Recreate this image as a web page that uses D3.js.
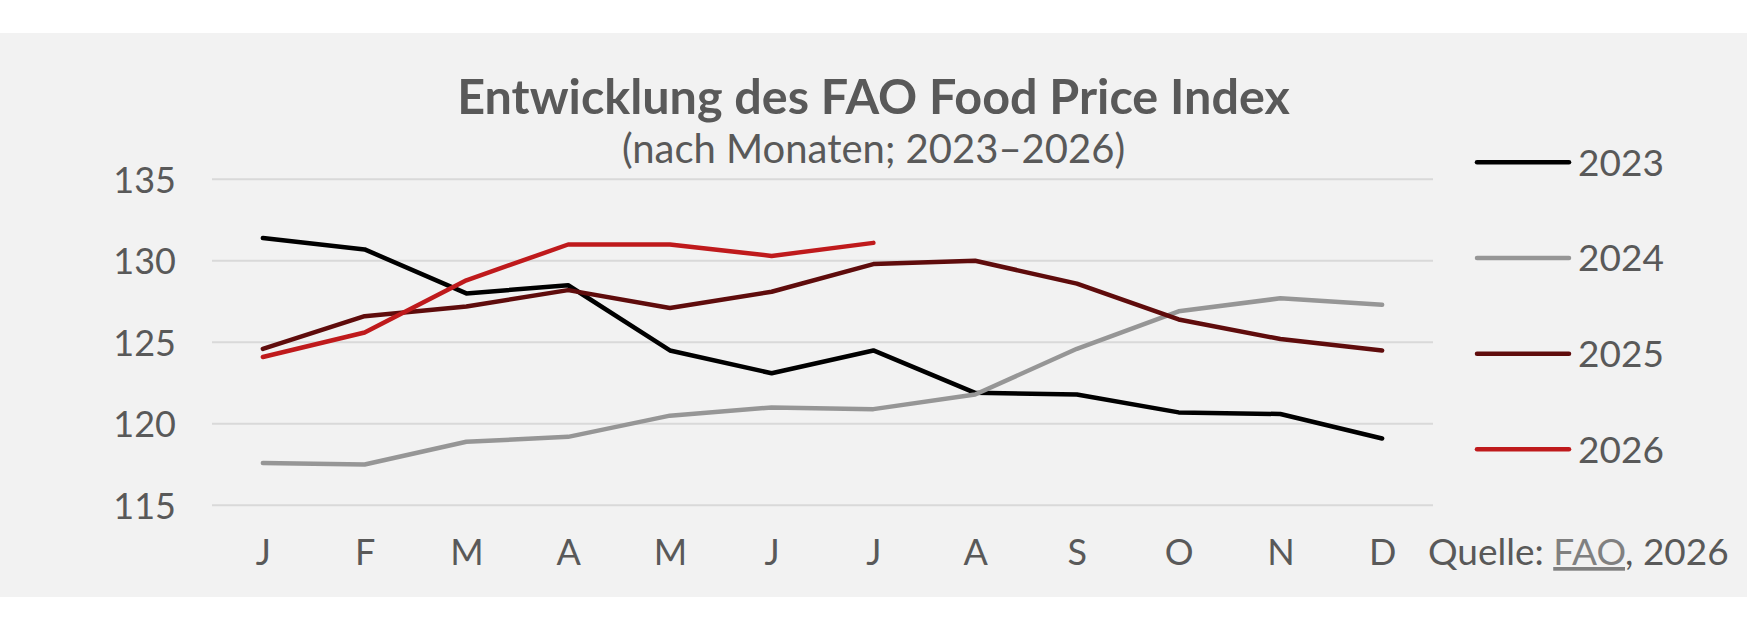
<!DOCTYPE html>
<html>
<head>
<meta charset="utf-8">
<script src="https://cdn.jsdelivr.net/npm/d3@7/dist/d3.min.js"></script>
<style>
  html, body { margin: 0; padding: 0; background: #ffffff; }
  svg { display: block; font-family: Lato, "Open Sans", sans-serif; }
</style>
</head>
<body>
<div id="chart"></div>
<script>
// month ticks (J F M A ...)
const months = ["J", "F", "M", "A", "M", "J", "J", "A", "S", "O", "N", "D"];
const years = ["2023", "2024", "2025", "2026"];
const yTicks = [115, 120, 125, 130, 135];

// FAO Food Price Index
const values2023 = [131.4, 130.7, 128.0, 128.5, 124.5, 123.1, 124.5, 121.9, 121.8, 120.7, 120.6, 119.1];
const values2024 = [117.6, 117.5, 118.9, 119.2, 120.5, 121.0, 120.9, 121.8, 124.6, 126.9, 127.7, 127.3];
const values2025 = [124.6, 126.6, 127.2, 128.2, 127.1, 128.1, 129.8, 130.0, 128.6, 126.4, 125.2, 124.5];
const values2026 = [124.1, 125.6, 128.8, 131.0, 131.0, 130.3, 131.1];

const colors = ["#000000", "#969696", "#5f0c0c", "#bf1a1c"];

const W = 1759, H = 631;
const textColor = "#595959";

const svg = d3.select("#chart")
  .append("svg")
  .attr("width", W)
  .attr("height", H);

svg.append("rect")
  .attr("x", 0).attr("y", 33)
  .attr("width", 1747).attr("height", 564)
  .attr("fill", "#f2f2f2");

// title
svg.append("text")
  .attr("x", 873.5).attr("y", 114)
  .attr("text-anchor", "middle")
  .attr("fill", textColor)
  .style("font-size", "48.5px")
  .style("font-weight", "700")
  .text("Entwicklung des FAO Food Price Index");

svg.append("text")
  .attr("x", 873.5).attr("y", 163)
  .attr("text-anchor", "middle")
  .attr("fill", textColor)
  .style("font-size", "40px")
  .text("(nach Monaten; 2023\u20132026)");

const x = d3.scalePoint()
  .domain(d3.range(months.length))
  .range([212, 1433])
  .padding(0.5);

const y = d3.scaleLinear()
  .domain([115, 135])
  .range([505.3, 179.3]);

// gridlines
svg.append("g")
  .selectAll("line")
  .data(yTicks)
  .join("line")
  .attr("x1", 212).attr("x2", 1433)
  .attr("y1", d => y(d)).attr("y2", d => y(d))
  .attr("stroke", "#d9d9d9")
  .attr("stroke-width", 2);

// y axis labels
const yAxis = svg.append("g")
  .attr("transform", "translate(176,0)")
  .call(d3.axisLeft(y).tickValues(yTicks).tickSize(0).tickPadding(0));
yAxis.select(".domain").remove();
yAxis.selectAll("text")
  .attr("fill", textColor)
  .attr("dy", "0.36em")
  .style("font-size", "36px")
  .style("font-family", "Lato");

// x axis labels
const xAxis = svg.append("g")
  .attr("transform", "translate(0,539)")
  .call(d3.axisBottom(x).tickFormat(i => months[i]).tickSize(0).tickPadding(0));
xAxis.select(".domain").remove();
xAxis.selectAll("text")
  .attr("fill", textColor)
  .attr("dy", "0.71em")
  .style("font-size", "36px")
  .style("font-family", "Lato");

// lines
const series = [values2023, values2024, values2025, values2026];
const line = d3.line()
  .x((d, i) => x(i))
  .y(d => y(d));

svg.append("g")
  .selectAll("path")
  .data(series)
  .join("path")
  .attr("d", line)
  .attr("fill", "none")
  .attr("stroke", (d, i) => colors[i])
  .attr("stroke-width", 4.5)
  .attr("stroke-linecap", "round")
  .attr("stroke-linejoin", "round");

// legend
const ly = d3.scalePoint()
  .domain(years)
  .range([162.3, 449.3]);

const legend = svg.append("g")
  .selectAll("g")
  .data(years)
  .join("g")
  .attr("transform", d => `translate(0,${ly(d)})`);

legend.append("line")
  .attr("x1", 1477).attr("x2", 1569)
  .attr("stroke", (d, i) => colors[i])
  .attr("stroke-width", 4.5)
  .attr("stroke-linecap", "round");

legend.append("text")
  .attr("x", 1578)
  .attr("dy", "0.36em")
  .attr("fill", textColor)
  .style("font-size", "37px")
  .text(d => d);

// source
const src = svg.append("text")
  .attr("x", 1428).attr("y", 565)
  .attr("fill", textColor)
  .style("font-size", "37px");
src.append("tspan").text("Quelle: ");
src.append("tspan")
  .attr("fill", "#808080")
  .style("text-decoration", "underline")
  .text("FAO");
src.append("tspan").text(", 2026");
</script>
</body>
</html>
